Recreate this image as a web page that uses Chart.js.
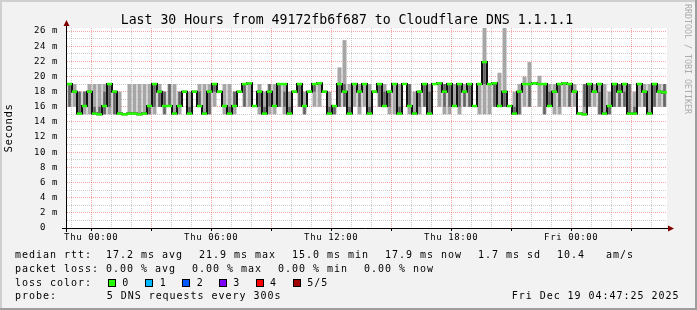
<!DOCTYPE html>
<html>
<head>
<meta charset="utf-8">
<script src="https://cdn.jsdelivr.net/npm/chart.js@4/dist/chart.umd.min.js"></script>
<style>
  html, body { margin: 0; padding: 0; background: #f2f2f2; }
  canvas { display: block; }
</style>
</head>
<body>
<canvas id="smokeChart" width="697" height="310"></canvas>
<script>
// time axis in hours relative to Thu 00:00 (graph covers Wed 22:47:25 .. Fri 04:47:25)
const startHour = -1.2097;
const endHour = 28.7903;
const slotHours = 0.25;

const graphTitle = 'Last 30 Hours from 49172fb6f687 to Cloudflare DNS 1.1.1.1';
const tickHours = [0, 6, 12, 18, 24];
const tickNames = ['Thu 00:00', 'Thu 06:00', 'Thu 12:00', 'Thu 18:00', 'Fri 00:00'];

// median rtt per 15 minute slot (ms)
const medianRtt = [
  19.0, 18.0, 15.1, 16.1, 18.0, 15.1, 15.0, 16.1, 19.0, 18.0,
  15.1, 15.0, 15.1, 15.1, 15.0, 15.1, 16.1, 19.0, 18.0, 16.1,
  16.1, 15.1, 16.1, 18.0, 15.1, 18.0, 16.1, 15.1, 18.0, 19.0,
  18.0, 16.1, 15.1, 16.1, 18.0, 19.0, 19.1, 16.1, 18.0, 15.1,
  18.0, 16.1, 19.0, 19.0, 15.1, 18.0, 19.0, 16.1, 18.0, 19.0,
  19.1, 18.0, 15.1, 16.1, 19.0, 18.0, 15.1, 19.0, 18.0, 19.0,
  15.1, 18.0, 19.0, 16.1, 18.0, 19.0, 15.1, 19.0, 16.1, 15.1,
  18.0, 19.0, 15.1, 19.0, 19.1, 18.0, 19.0, 16.1, 19.0, 18.0,
  19.0, 16.1, 19.0, 21.9, 19.0, 19.1, 16.1, 18.0, 16.1, 15.1,
  18.0, 19.0, 19.0, 19.1, 19.0, 19.0, 16.1, 18.0, 19.0, 19.1,
  19.0, 18.0, 15.1, 15.0, 19.0, 18.0, 19.0, 15.1, 16.1, 19.0,
  18.0, 19.0, 15.1, 15.1, 19.0, 18.0, 15.1, 19.0, 18.0, 17.9
];

// outer smoke (min / max of the pings), null = no smoke drawn
const smokeLow = [
  16, 16, 15, 15, 15, 15, 15, 15, 15, 15,
  15, null, 15, 15, 15, 15, 15, 15, 16, 15,
  16, 15, 15, null, 15, null, 16, 15, 15, 16,
  null, 15, 15, 15, null, 16, 16, null, 15, 15,
  15, 15, 16, 15, 15, null, 16, 15, null, 16,
  16, null, 15, 15, 16, 16, 15, 16, 15, 16,
  15, null, 16, 16, 15, 15, 15, null, 15, 15,
  15, 16, 15, null, 16, 15, 15, 16, 15, 16,
  16, null, 15, 15, 15, 16, 16, 16, null, 15,
  15, 16, 16, null, 16, 15, 16, 15, 15, 16,
  16, 16, null, 15, 16, 16, 15, 15, 15, 16,
  16, 16, 15, 15, 16, 16, 15, 16, 16, 16
];
const smokeHigh = [
  19, 19, 18, 18, 19, 19, 19, 19, 19, 18,
  18, null, 19, 19, 19, 19, 19, 19, 19, 18,
  19, 19, 18, null, 18, null, 19, 19, 19, 19,
  null, 19, 19, 18, null, 19, 19, null, 19, 18,
  19, 19, 19, 19, 18, null, 19, 18, null, 19,
  19, null, 18, 16.1, 21.2, 24.8, 19, 19, 19, 19,
  19, null, 19, 19, 18, 19, 19, null, 19, 18,
  18, 19, 19, null, 19, 19, 19, 19, 19, 19,
  19, null, 19, 26.4, 19, 19, 20.5, 26.4, null, 18,
  19, 20, 21.9, null, 20.1, 19, 19, 19, 19, 19,
  19, 19, null, 19, 19, 19, 19, 19, 18, 19,
  19, 19, 19, 18, 19, 19, 19, 19, 19, 19
];

// inner (dense) smoke
const darkLow = [
  16, null, 15, 16, null, 15, 15, 15, 16, 15,
  null, null, null, null, null, null, 15, 16, 16, 15,
  16, null, 16, null, 15, null, 16, null, 15, 18,
  null, null, 15, 16, null, 16, null, null, 16, 15,
  16, null, 16, 16, 15, null, 16, 15, null, 18,
  null, null, 15, 15, 16, 16, 15, null, 16, null,
  15, null, 16, 16, 16, null, 15, null, 16, null,
  16, 16, 15, null, null, 16, 16, null, 16, 16,
  16, null, null, 19, null, 16, null, 16, null, 15,
  15, null, 16, null, null, 15, 16, null, 16, null,
  16, null, null, 16, 16, null, 15, null, 15, 16,
  16, 16, 15, 15, null, 16, null, 16, null, 16
];
const darkHigh = [
  19, null, 18, 18, null, 16, 16, 18, 19, 18,
  null, null, null, null, null, null, 16, 19, 18, 18,
  19, null, 18, null, 16, null, 18, null, 18, 19,
  null, null, 16, 18, null, 19, null, null, 18, 16,
  19, null, 19, 18, 16, null, 19, 16, null, 19,
  null, null, 16, 16, 19, 19, 16, null, 18, null,
  16, null, 19, 18, 18, null, 16, null, 19, null,
  18, 19, 18, null, null, 19, 19, null, 19, 18,
  19, null, null, 21.9, null, 19, null, 18, null, 16,
  18, null, 19, null, null, 19, 18, null, 19, null,
  19, null, null, 19, 19, null, 18, null, 16, 19,
  19, 18, 19, 16, null, 18, null, 19, null, 19
];

const rttStats = ['17.2 ms avg', '21.9 ms max', '15.0 ms min', '17.9 ms now', '1.7 ms sd', '10.4', 'am/s'];
const lossStats = ['0.00 % avg', '0.00 % max', '0.00 % min', '0.00 % now'];
const lossNames = ['0', '1', '2', '3', '4', '5/5'];
const lossColors = ['#26ff00', '#00b8ff', '#0059ff', '#7e00ff', '#ff0000', '#a10000'];
const probeText = '5 DNS requests every 300s';
const stampText = 'Fri Dec 19 04:47:25 2025';

const slotCenters = medianRtt.map((_, i) => startHour + slotHours * (i + 0.5));

// one grid line per whole hour inside the window
const hourTicks = [];
for (let h = Math.ceil(startHour); h <= Math.floor(endHour); h++) hourTicks.push(h);

function bandPoints(lows, highs) {
    const pts = [];
    lows.forEach((lo, i) => {
        if (lo !== null) pts.push({ x: slotCenters[i], y: [lo, highs[i]] });
    });
    return pts;
}

const monoFont = '"DejaVu Sans Mono"';
const majorGrid = 'rgba(240, 0, 0, 0.35)';
const minorGrid = 'rgba(143, 143, 143, 0.45)';

const smokepingFrame = {
    id: 'smokepingFrame',
    beforeDraw(chart) {
        const { ctx, chartArea: a } = chart;
        ctx.save();
        ctx.fillStyle = '#f2f2f2';
        ctx.fillRect(0, 0, 697, 310);
        ctx.fillStyle = '#cfcfcf';
        ctx.fillRect(0, 0, 697, 2);
        ctx.fillRect(0, 0, 2, 310);
        ctx.fillStyle = '#9e9e9e';
        ctx.fillRect(0, 308, 697, 2);
        ctx.fillRect(695, 0, 2, 310);
        ctx.fillStyle = '#ffffff';
        ctx.fillRect(a.left, a.top, a.right - a.left, a.bottom - a.top);
        ctx.restore();
        ctx.letterSpacing = '0.6px';
    },
    afterDatasetsDraw(chart) {
        const { ctx } = chart;
        ctx.save();
        ctx.strokeStyle = '#000';
        ctx.lineWidth = 1;
        ctx.beginPath();
        ctx.moveTo(62, 228.5);
        ctx.lineTo(669, 228.5);
        ctx.moveTo(66.5, 232);
        ctx.lineTo(66.5, 25);
        ctx.stroke();
        ctx.fillStyle = '#800000';
        ctx.beginPath();
        ctx.moveTo(668, 225.5);
        ctx.lineTo(674, 228.5);
        ctx.lineTo(668, 231.5);
        ctx.closePath();
        ctx.fill();
        ctx.beginPath();
        ctx.moveTo(63.5, 26);
        ctx.lineTo(66.5, 20);
        ctx.lineTo(69.5, 26);
        ctx.closePath();
        ctx.fill();
        ctx.restore();
    },
    afterDraw(chart) {
        const { ctx } = chart;
        ctx.save();
        ctx.fillStyle = '#000';
        ctx.textBaseline = 'alphabetic';
        ctx.letterSpacing = '0px';
        ctx.font = '13.2px ' + monoFont;
        ctx.textAlign = 'center';
        ctx.fillText(graphTitle, 347, 24);

        ctx.textAlign = 'left';
        ctx.font = '10px ' + monoFont;
        ctx.letterSpacing = '0.97px';

        ctx.fillText('median rtt:', 15, 258.3);
        [106, 199, 292, 385, 478, 557, 606].forEach((x, i) => ctx.fillText(rttStats[i], x, 258.3));

        ctx.fillText('packet loss:', 15, 272);
        [106, 192, 278, 364].forEach((x, i) => ctx.fillText(lossStats[i], x, 272));

        ctx.fillText('loss color:', 15, 285.7);
        const boxX = [108, 145, 182, 219, 256, 293];
        const nameX = [122.3, 159.7, 196.7, 233.3, 270, 307.3];
        lossColors.forEach((c, i) => {
            ctx.fillStyle = c;
            ctx.fillRect(boxX[i], 279, 8, 8);
            ctx.strokeStyle = '#000';
            ctx.lineWidth = 1;
            ctx.strokeRect(boxX[i] + 0.5, 279.5, 7, 7);
            ctx.fillStyle = '#000';
            ctx.fillText(lossNames[i], nameX[i], 285.7);
        });

        ctx.fillText('probe:', 15, 299.3);
        ctx.fillText(probeText, 106.7, 299.3);
        ctx.fillText(stampText, 511.7, 299.3);

        ctx.letterSpacing = '0px';
        ctx.font = '8.3px ' + monoFont;
        ctx.fillStyle = '#ababab';
        ctx.translate(687.5, 4);
        ctx.rotate(Math.PI / 2);
        ctx.textBaseline = 'middle';
        ctx.fillText('RRDTOOL / TOBI OETIKER', 0, 0);
        ctx.restore();
    }
};

new Chart(document.getElementById('smokeChart'), {
    type: 'bar',
    data: {
        datasets: [
            {
                type: 'line',
                label: 'median rtt',
                data: medianRtt.map((v, i) => ({ x: slotCenters[i], y: v })),
                stepped: 'middle',
                fill: false,
                borderColor: '#111111',
                borderWidth: 2,
                pointStyle: 'line',
                pointRadius: 2.5,
                pointHoverRadius: 2.5,
                pointBorderColor: '#26ff00',
                pointBorderWidth: 2.5,
                order: 0,
            },
            {
                label: 'smoke core',
                data: bandPoints(darkLow, darkHigh),
                backgroundColor: '#626262',
                barPercentage: 0.6,
                grouped: false,
                order: 1,
            },
            {
                label: 'smoke',
                data: bandPoints(smokeLow, smokeHigh),
                backgroundColor: '#a6a6a6',
                barPercentage: 1,
                grouped: false,
                order: 2,
            },
        ],
    },
    options: {
        responsive: false,
        animation: false,
        events: [],
        layout: { padding: { top: 28, right: 30, left: 0, bottom: 0 } },
        plugins: {
            legend: { display: false },
            tooltip: { enabled: false },
        },
        scales: {
            x: {
                type: 'linear',
                min: startHour,
                max: endHour,
                offset: false,
                afterBuildTicks: (scale) => { scale.ticks = hourTicks.map((h) => ({ value: h })); },
                afterFit: (scale) => { scale.height = 82; },
                grid: {
                    offset: false,
                    lineWidth: 1,
                    color: (c) => (c.tick && c.tick.value % 3 === 0 ? majorGrid : minorGrid),
                    tickLength: 3,
                    tickColor: (c) => (c.tick && c.tick.value % 3 === 0 ? '#000' : 'rgba(0,0,0,0)'),
                },
                border: { display: false, dash: [1, 1] },
                ticks: {
                    autoSkip: false,
                    maxRotation: 0,
                    padding: 1,
                    color: '#000',
                    font: { family: 'DejaVu Sans Mono', size: 9 },
                    callback: (v) => {
                        const k = tickHours.indexOf(v);
                        return k < 0 ? '' : tickNames[k];
                    },
                },
            },
            y: {
                min: 0,
                max: 26.4,
                afterFit: (scale) => { scale.width = 67; },
                grid: {
                    lineWidth: 1,
                    color: (c) => (c.tick && c.tick.value % 2 === 0 ? majorGrid : minorGrid),
                    tickLength: 4,
                    tickColor: 'rgba(0,0,0,0)',
                },
                border: { display: false, dash: [1, 1] },
                ticks: {
                    stepSize: 1,
                    maxTicksLimit: 100,
                    includeBounds: false,
                    autoSkip: false,
                    padding: 5,
                    color: '#000',
                    font: { family: 'DejaVu Sans Mono', size: 9 },
                    callback: (v) => (v % 2 ? '' : (v === 0 ? '0  ' : v + ' m')),
                },
                title: {
                    display: true,
                    text: 'Seconds',
                    color: '#000',
                    font: { family: 'DejaVu Sans Mono', size: 10.7 },
                    padding: { top: 3, bottom: 0 },
                },
            },
        },
    },
    plugins: [smokepingFrame],
});
</script>
</body>
</html>
